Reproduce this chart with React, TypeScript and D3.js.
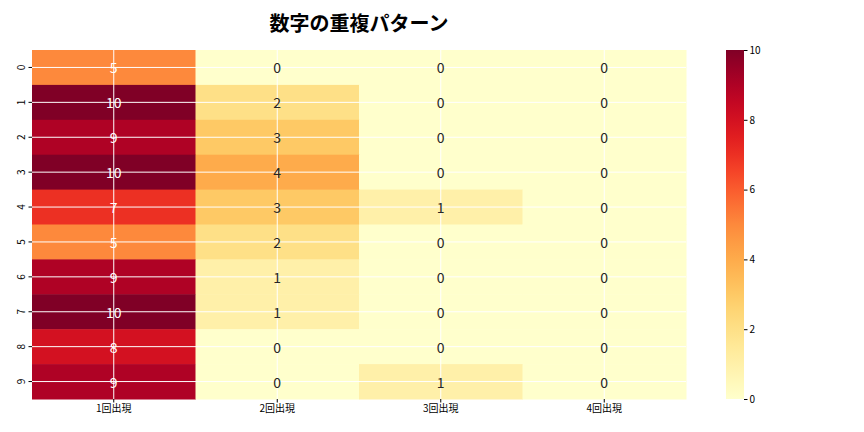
// Heatmap of digit repeat counts, drawn with D3 scales
import { useEffect, useRef } from 'react';
import * as d3 from 'd3';

const rowLabels = ['0', '1', '2', '3', '4', '5', '6', '7', '8', '9'];
const colLabels = ['1回出現', '2回出現', '3回出現', '4回出現'];
const once = [5, 10, 9, 10, 7, 5, 9, 10, 8, 9];
const twice = [0, 2, 3, 4, 3, 2, 1, 1, 0, 0];
const thrice = [0, 0, 0, 0, 1, 0, 0, 0, 0, 1];
const fourTimes = [0, 0, 0, 0, 0, 0, 0, 0, 0, 0];
const colorTicks = [0, 2, 4, 6, 8, 10];
const title = '数字の重複パターン';

const FONT = '"Noto Sans CJK JP", "Noto Sans", sans-serif';

const App = () => {
  const svgRef = useRef<SVGSVGElement>(null);
  const width = 864;
  const height = 432;
  const margin = { top: 50, left: 32, right: 178, bottom: 33 };

  useEffect(() => {
    if (!svgRef.current) return;
    const svg = d3.select(svgRef.current);
    svg.selectAll('*').remove();

    const series = [once, twice, thrice, fourTimes];
    const cells = rowLabels.flatMap((r, i) =>
      colLabels.map((c, j) => ({ row: r, col: c, value: series[j][i] }))
    );

    const innerW = width - margin.left - margin.right;
    const innerH = height - margin.top - margin.bottom;

    const x = d3.scaleBand().domain(colLabels).range([0, innerW]);
    const y = d3.scaleBand().domain(rowLabels).range([0, innerH]);
    const color = d3.scaleSequential(d3.interpolateYlOrRd).domain([0, 10]);

    const g = svg.append('g').attr('transform', `translate(${margin.left},${margin.top})`);

    // cells
    g.selectAll('rect.cell')
      .data(cells)
      .enter().append('rect')
      .attr('class', 'cell')
      .attr('x', d => x(d.col)!)
      .attr('y', d => y(d.row)!)
      .attr('width', x.bandwidth() + 0.5)
      .attr('height', y.bandwidth() + 0.5)
      .attr('fill', d => color(d.value));

    // white grid at tick centers
    g.selectAll('line.hgrid')
      .data(rowLabels)
      .enter().append('line')
      .attr('x1', 0).attr('x2', innerW)
      .attr('y1', d => y(d)! + y.bandwidth() / 2)
      .attr('y2', d => y(d)! + y.bandwidth() / 2)
      .attr('stroke', '#fff').attr('stroke-width', 1);
    g.selectAll('line.vgrid')
      .data(colLabels)
      .enter().append('line')
      .attr('y1', 0).attr('y2', innerH)
      .attr('x1', d => x(d)! + x.bandwidth() / 2)
      .attr('x2', d => x(d)! + x.bandwidth() / 2)
      .attr('stroke', '#fff').attr('stroke-width', 1);

    // annotations
    g.selectAll('text.annot')
      .data(cells)
      .enter().append('text')
      .attr('x', d => x(d.col)! + x.bandwidth() / 2)
      .attr('y', d => y(d.row)! + y.bandwidth() / 2)
      .attr('text-anchor', 'middle')
      .attr('dominant-baseline', 'central')
      .attr('font-family', FONT)
      .attr('font-size', 14)
      .attr('fill', d => (d.value >= 5 ? '#ffffff' : '#262626'))
      .text(d => d.value);

    // x axis
    const xAxis = g.append('g')
      .attr('transform', `translate(0,${innerH})`)
      .call(d3.axisBottom(x).tickSize(3.5).tickPadding(2));
    xAxis.select('.domain').remove();
    xAxis.selectAll('text').attr('font-family', FONT).attr('font-size', 10).attr('fill', '#000');

    // y axis
    const yAxis = g.append('g').call(d3.axisLeft(y).tickSize(3.5).tickPadding(3));
    yAxis.select('.domain').remove();
    yAxis.selectAll('text')
      .attr('font-family', FONT).attr('font-size', 10).attr('fill', '#000')
      .attr('text-anchor', 'middle')
      .attr('dy', null)
      .attr('x', null)
      .attr('transform', 'translate(-12,0) rotate(-90)')
      .attr('dominant-baseline', 'central');

    // colorbar
    const cbX = 726;
    const cbW = 18;
    const cbScale = d3.scaleLinear().domain([0, 10]).range([margin.top + innerH, margin.top]);
    const defs = svg.append('defs');
    const grad = defs.append('linearGradient')
      .attr('id', 'cbgrad').attr('x1', 0).attr('y1', 1).attr('x2', 0).attr('y2', 0);
    d3.range(0, 1.0001, 0.05).forEach(t => {
      grad.append('stop').attr('offset', t).attr('stop-color', color(t * 10));
    });
    svg.append('rect')
      .attr('x', cbX).attr('y', margin.top)
      .attr('width', cbW).attr('height', innerH)
      .attr('fill', 'url(#cbgrad)');
    const cbAxis = svg.append('g')
      .attr('transform', `translate(${cbX + cbW},0)`)
      .call(d3.axisRight(cbScale).tickValues(colorTicks).tickSize(3.5).tickPadding(2));
    cbAxis.select('.domain').remove();
    cbAxis.selectAll('text').attr('font-family', FONT).attr('font-size', 10).attr('fill', '#000');

    // title
    svg.append('text')
      .attr('x', margin.left + innerW / 2)
      .attr('y', 22)
      .attr('text-anchor', 'middle')
      .attr('dominant-baseline', 'central')
      .attr('font-family', FONT)
      .attr('font-size', 20)
      .attr('font-weight', 'bold')
      .attr('fill', '#000')
      .text(title);
  }, []);

  return (
    <div style={{ position: 'absolute', left: 0, top: 0, width, height, background: '#fff' }}>
      <svg ref={svgRef} width={width} height={height} style={{ display: 'block' }} />
    </div>
  );
};

export default App;
